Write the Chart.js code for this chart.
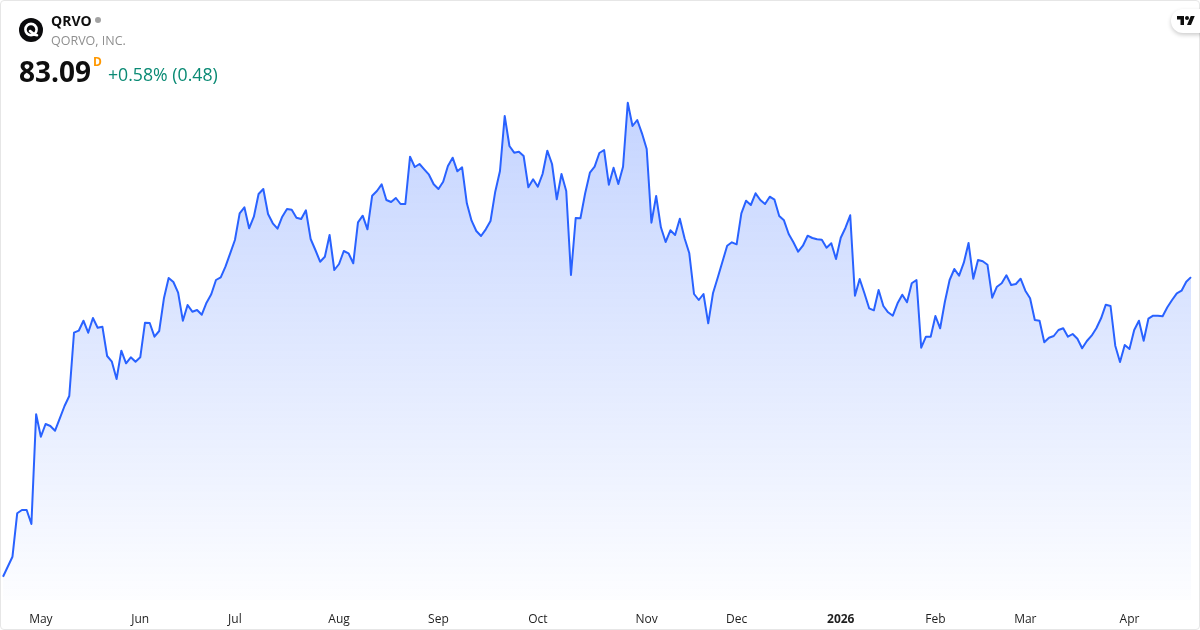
<!DOCTYPE html>
<html>
<head>
<meta charset="utf-8">
<title>QRVO</title>
<script src="https://cdn.jsdelivr.net/npm/chart.js@4"></script>
<style>
  html, body { margin: 0; padding: 0; background: #fff; }
  #wrap { position: relative; width: 1200px; height: 630px; overflow: hidden; font-family: "Open Sans", sans-serif; color: #0f0f0f; }
  #frame { position: absolute; left: 0; top: 0; width: 1198px; height: 628px; border: 1px solid #e6e6e6; border-radius: 4px; pointer-events: none; }
  canvas { position: absolute; left: 0; top: 0; }
  #logo { position: absolute; left: 19px; top: 18px; }
  .txt { position: absolute; white-space: nowrap; }
  #symbol { left: 51px; top: 11px; font-size: 14px; line-height: 19px; font-weight: 700; }
  #dot { position: absolute; left: 95px; top: 17px; width: 6px; height: 6px; border-radius: 50%; background: #a3a3a3; }
  #name { left: 51px; top: 32px; font-size: 12.5px; line-height: 17px; color: #8f8f8f; }
  #price { left: 19px; top: 52px; font-size: 28px; line-height: 38px; font-weight: 700; }
  #res { left: 93px; top: 54px; font-size: 12px; line-height: 16px; font-weight: 700; color: #ff9800; }
  #change { left: 108px; top: 62px; font-size: 17.7px; line-height: 24px; color: #0a8a74; }
  #tv { position: absolute; left: 1171px; top: 9px; width: 40px; height: 24px; border-radius: 12px; background: #fff; box-shadow: 0 2px 4px rgba(0,0,0,.2); }
  #tv svg { position: absolute; left: 6px; top: 5px; }
</style>
</head>
<body>
<div id="wrap">
  <canvas id="priceChart" width="1200" height="630"></canvas>
  <div id="frame"></div>
  <svg id="logo" width="24" height="24" viewBox="0 0 24 24">
    <circle cx="12" cy="12" r="12" fill="#0a0a0c"/>
    <circle cx="12" cy="11.5" r="5.6" fill="none" stroke="#fff" stroke-width="2.6"/>
    <path d="M11 13 C13 14 14 16.8 18 17.2" fill="none" stroke="#fff" stroke-width="2.6" stroke-linecap="round"/>
  </svg>
  <div class="txt" id="symbol">QRVO</div>
  <div id="dot"></div>
  <div class="txt" id="name">QORVO, INC.</div>
  <div class="txt" id="price">83.09</div>
  <div class="txt" id="res">D</div>
  <div class="txt" id="change">+0.58% (0.48)</div>
  <div id="tv">
    <svg width="18" height="14" viewBox="0 0 36 28"><path fill="#0f0f0f" d="M14 22H7V11H0V4h14v18zM28 22h-8l7.5-18h8L28 22z"/><circle fill="#0f0f0f" cx="20" cy="8" r="4"/></svg>
  </div>
</div>

<script>
// ==================================== DATA ============================================

const closes = [
  53.13, 54.13, 55.13, 59.47, 59.8, 59.8, 58.4, 69.37, 67.13, 68.4, 68.2, 67.73,
  68.97, 70.2, 71.2, 77.53, 77.73, 78.73, 77.53, 79.0, 78.03, 78.13, 75.2, 74.63,
  72.9, 75.73, 74.47, 75.07, 74.63, 75.07, 78.53, 78.5, 77.13, 77.7, 80.97, 83.0,
  82.6, 81.53, 78.73, 80.3, 79.63, 79.8, 79.33, 80.53, 81.37, 82.8, 83.07, 84.13,
  85.47, 86.8, 89.47, 90.07, 87.97, 89.13, 91.4, 91.9, 89.4, 88.47, 87.93, 89.13,
  89.9, 89.83, 89.03, 88.9, 89.77, 86.9, 85.8, 84.63, 85.13, 87.3, 83.8, 84.4,
  85.7, 85.47, 84.47, 88.57, 89.23, 87.87, 91.23, 91.7, 92.37, 90.8, 90.6, 91.0,
  90.4, 90.4, 95.13, 94.1, 94.4, 93.87, 93.33, 92.37, 91.9, 92.63, 94.2, 95.03,
  93.67, 94.07, 90.47, 88.73, 87.7, 87.2, 87.87, 88.7, 91.63, 93.7, 99.2, 96.2,
  95.53, 95.63, 95.2, 92.07, 92.87, 92.13, 93.4, 95.73, 94.4, 90.87, 93.4, 91.7,
  83.3, 89.0, 88.97, 91.47, 93.53, 94.13, 95.5, 95.8, 92.33, 94.03, 92.4, 94.13,
  100.53, 98.2, 98.8, 97.47, 95.9, 88.53, 91.2, 88.07, 86.6, 87.77, 87.3, 88.93,
  86.97, 85.47, 81.4, 80.8, 81.4, 78.47, 81.47, 83.03, 84.63, 86.23, 86.57, 86.37,
  89.47, 90.73, 90.3, 91.47, 90.8, 90.4, 91.13, 90.83, 89.2, 88.77, 87.4, 86.57,
  85.63, 86.23, 87.23, 87.0, 86.87, 86.83, 86.03, 86.47, 84.9, 87.03, 88.03, 89.27,
  81.23, 82.9, 81.47, 79.97, 79.77, 81.8, 80.2, 79.57, 79.23, 80.47, 81.33, 80.57,
  82.47, 82.8, 76.03, 77.13, 77.13, 79.2, 77.97, 80.63, 82.8, 83.9, 83.23, 84.53,
  86.5, 82.93, 84.8, 84.67, 84.33, 81.03, 82.13, 82.47, 83.27, 82.3, 82.4, 82.93,
  81.73, 80.97, 78.8, 78.73, 76.57, 77.03, 77.2, 77.8, 77.97, 77.13, 77.4, 76.93,
  75.97, 76.7, 77.23, 77.97, 78.97, 80.33, 80.2, 76.23, 74.6, 76.3, 75.9, 77.8,
  78.73, 76.73, 78.93, 79.23, 79.23, 79.17, 80.07, 80.8, 81.47, 81.73, 82.63, 83.09
];

const tickLabels = ["May", "Jun", "Jul", "Aug", "Sep", "Oct", "Nov", "Dec", "2026", "Feb", "Mar", "Apr"];
const tickDays = [8, 29, 49, 71, 92, 113, 136, 155, 177, 197, 216, 238];

const priceMin = 50.8;
const priceMax = 101.3;

// ==================================== CHART ============================================

const labels = closes.map((_, i) => {
  const k = tickDays.indexOf(i);
  return k < 0 ? "" : tickLabels[k];
});

function areaGradient(context) {
  const { ctx, chartArea } = context.chart;
  if (!chartArea) return "rgba(41,98,255,0.2)";
  const g = ctx.createLinearGradient(0, chartArea.top, 0, chartArea.bottom);
  g.addColorStop(0, "rgba(41,98,255,0.28)");
  g.addColorStop(1, "rgba(41,98,255,0.01)");
  return g;
}

new Chart(document.getElementById("priceChart"), {
  type: "line",
  data: {
    labels: labels,
    datasets: [
      {
        data: closes,
        borderColor: "#2962ff",
        borderWidth: 2,
        backgroundColor: areaGradient,
        fill: "start",
        pointRadius: 0,
        tension: 0,
        borderJoinStyle: "round",
      },
    ],
  },
  options: {
    responsive: false,
    animation: false,
    layout: { padding: { left: 3, right: 9, top: 95, bottom: 0 } },
    plugins: { legend: { display: false }, tooltip: { enabled: false } },
    scales: {
      x: {
        grid: { display: false },
        border: { display: false },
        // keep the plot edges at the padding, blank end labels should not push them in
        afterFit: (scale) => {
          scale.height = 30;
          scale.paddingLeft = 0;
          scale.paddingRight = 0;
        },
        ticks: {
          autoSkip: false,
          maxRotation: 0,
          padding: 4,
          sampleSize: closes.length,
          color: "#1f1f1f",
          font: (c) => ({
            family: "'Open Sans', sans-serif",
            size: 12,
            weight: c.tick && c.tick.label === "2026" ? "bold" : "normal",
          }),
        },
      },
      y: { display: false, min: priceMin, max: priceMax },
    },
  },
});
</script>
</body>
</html>
